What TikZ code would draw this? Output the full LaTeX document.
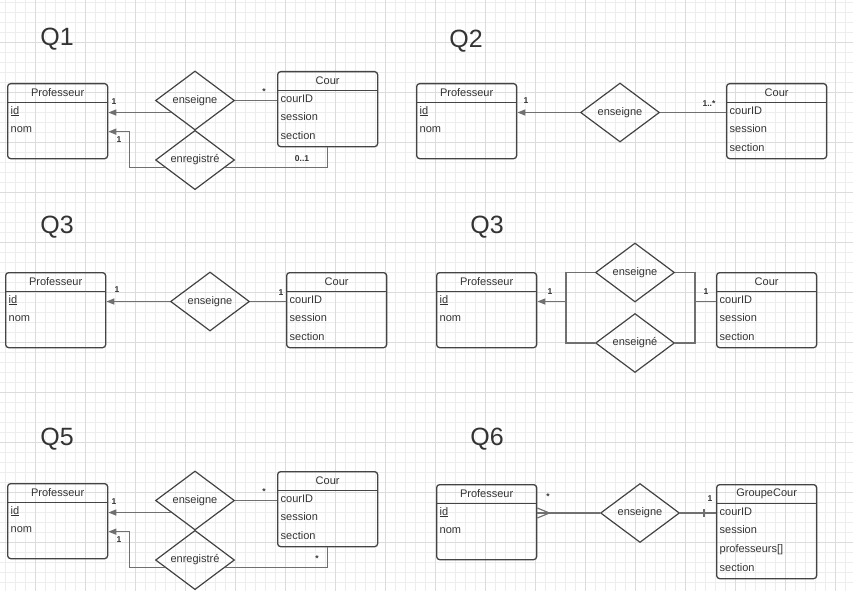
\documentclass[tikz,border=0pt]{standalone}
\usepackage{fontspec}
\setmainfont{Liberation Sans}
\usepackage{tikz}
\usetikzlibrary{calc}
\usetikzlibrary{arrows.meta}
\usetikzlibrary{shapes.geometric}
\usepackage{xcolor}

\definecolor{gridminor}{HTML}{EDEDED}
\definecolor{gridmajor}{HTML}{DCDCDC}
\definecolor{boxborder}{HTML}{444444}
\definecolor{linkgray}{HTML}{707070}
\definecolor{txt}{HTML}{333333}

\begin{document}
\begin{tikzpicture}[x=1pt,y=-1pt,
	entity/.style={rectangle,draw=boxborder,line width=1.3pt,rounded corners=3pt,minimum width=100pt,anchor=north west,inner sep=0pt},
	head/.style={anchor=north,minimum width=100pt,minimum height=19pt,inner sep=0pt,font=\fontsize{11}{13}\selectfont,text=txt},
	attr/.style={anchor=west,inner sep=0pt,text height=8pt,text depth=2.5pt,font=\fontsize{11}{13}\selectfont,text=txt},
	rel/.style={diamond,draw=boxborder,line width=1.2pt,minimum width=79pt,minimum height=59pt,inner sep=0pt,font=\fontsize{11}{13}\selectfont,text=txt},
	link/.style={draw=linkgray,line width=1.2pt},
	arr/.style={link,-{Triangle[length=8pt,width=6pt]}},
	lab/.style={inner sep=0pt,font=\fontsize{8.5}{10}\selectfont\bfseries,text=txt},
	qtitle/.style={inner sep=0pt,font=\fontsize{25}{30}\selectfont,text=txt},
	]
	
	%bounding box
	\useasboundingbox (0,0) rectangle (853,591);
	%grid
	\foreach \gx in {5,15,...,853}
	{
		\draw[gridminor,line width=0.8pt] (\gx,0) -- (\gx,591);
	}
	\foreach \gy in {2.5,12.5,...,591}
	{
		\draw[gridminor,line width=0.8pt] (0,\gy) -- (853,\gy);
	}
	\foreach \gx in {35,85,...,853}
	{
		\draw[gridmajor,line width=0.8pt] (\gx,0) -- (\gx,591);
	}
	\foreach \gy in {42.5,92.5,...,591}
	{
		\draw[gridmajor,line width=0.8pt] (0,\gy) -- (853,\gy);
	}
	
	%titles
	\node[qtitle] (T1) at (57,39) {Q1};
	\node[qtitle] (T2) at (466,41) {Q2};
	\node[qtitle] (T3) at (57,227) {Q3};
	\node[qtitle] (T4) at (487,227) {Q3};
	\node[qtitle] (T5) at (57,439) {Q5};
	\node[qtitle] (T6) at (487,439) {Q6};
	
	%entities
	\foreach \n/\x/\y/\h/\t/\attrs in {
		P1/7/83/75/Professeur/{\underline{id},nom},
		C1/277/71/75/Cour/{courID,session,section},
		P2/416/83/75/Professeur/{\underline{id},nom},
		C2/726/83/75/Cour/{courID,session,section},
		P3/5/272/75/Professeur/{\underline{id},nom},
		C3/286/272/75/Cour/{courID,session,section},
		P4/436/272/75/Professeur/{\underline{id},nom},
		C4/716/272/75/Cour/{courID,session,section},
		P5/7/483/75/Professeur/{\underline{id},nom},
		C5/277/471/75/Cour/{courID,session,section},
		P6/436/484/75/Professeur/{\underline{id},nom},
		G6/716/484/94/GroupeCour/{courID,session,professeurs[],section}}
	{
		\node[entity,minimum height=\h pt] (\n) at (\x,\y) {};
		\node[head] (\n h) at (\n.north) {\t};
		\draw[draw=boxborder,line width=1.3pt] (\n h.south west) -- (\n h.south east);
		\foreach \a [count=\i] in \attrs
		{
			\node[attr] (\n a\i) at ($(\n h.south west)+(3,{9+18.7*(\i-1)})$) {\a};
		}
	}
	
	%relations
	\node[rel] (E1) at (195,100.5) {enseigne};
	\node[rel] (R1) at (195,160) {enregistré};
	\node[rel] (E2) at (620,112.5) {enseigne};
	\node[rel] (E3) at (210,301.5) {enseigne};
	\node[rel] (E4) at (635,272.5) {enseigne};
	\node[rel] (F4) at (635,343) {enseigné};
	\node[rel] (E5) at (195,500.5) {enseigne};
	\node[rel] (R5) at (195,560) {enregistré};
	\node[rel] (E6) at (640,513) {enseigne};
	
	%Q1
	\coordinate (e1a) at ($(E1.west)!0.4!(E1.south)$);
	\coordinate (r1a) at ($(R1.west)!0.24!(R1.south)$);
	\coordinate (r1b) at ($(R1.east)!0.24!(R1.south)$);
	\draw[arr] (e1a) -- (e1a -| P1.east);
	\draw[link] (E1.east) -- (E1.east -| C1.west);
	\draw[arr] (r1a) -| ($(P1.east)+(21,10.5)$) -- ($(P1.east)+(0,10.5)$);
	\draw[link] (r1b) -| (C1.south);
	\node[lab] (L1a) at (114,102) {1};
	\node[lab] (L1b) at (264,92) {*};
	\node[lab] (L1c) at (119,140) {1};
	\node[lab] (L1d) at (302,159) {0..1};
	
	%Q2
	\draw[arr] (E2.west) -- (E2.west -| P2.east);
	\draw[link] (E2.east) -- (E2.east -| C2.west);
	\node[lab] (L2a) at (526,101) {1};
	\node[lab] (L2b) at (709,104) {1..*};
	
	%Q3
	\draw[arr] (E3.west) -- (E3.west -| P3.east);
	\draw[link] (E3.east) -- (E3.east -| C3.west);
	\node[lab] (L3a) at (117,290) {1};
	\node[lab] (L3b) at (281,293) {1};
	
	%Q3 (two relations)
	\coordinate (j4l) at (566,301.5);
	\coordinate (j4r) at (695,301.5);
	\draw[link] (E4.west) -| (j4l) |- (F4.west);
	\draw[arr] (j4l) -- (j4l -| P4.east);
	\draw[link] (E4.east) -| (j4r) |- (F4.east);
	\draw[link] (j4r) -- (j4r -| C4.west);
	\node[lab] (L4a) at (550,292) {1};
	\node[lab] (L4b) at (706,292) {1};
	
	%Q5
	\coordinate (e5a) at ($(E5.west)!0.4!(E5.south)$);
	\coordinate (r5a) at ($(R5.west)!0.24!(R5.south)$);
	\coordinate (r5b) at ($(R5.east)!0.24!(R5.south)$);
	\draw[arr] (e5a) -- (e5a -| P5.east);
	\draw[link] (E5.east) -- (E5.east -| C5.west);
	\draw[arr] (r5a) -| ($(P5.east)+(21,10.5)$) -- ($(P5.east)+(0,10.5)$);
	\draw[link] (r5b) -| (C5.south);
	\node[lab] (L5a) at (114,502) {1};
	\node[lab] (L5b) at (264,492) {*};
	\node[lab] (L5c) at (119,540) {1};
	\node[lab] (L5d) at (317,559) {*};
	
	%Q6
	\coordinate (c6l) at (E6.west -| P6.east);
	\coordinate (c6r) at (E6.east -| G6.west);
	\draw[link] (c6l) -- (E6.west);
	\draw[link] ($(c6l)+(0,-5)$) -- ($(c6l)+(12,0)$) -- ($(c6l)+(0,5)$);
	\draw[link] (E6.east) -- (c6r);
	\draw[link] ($(c6r)+(-12,-4)$) -- ($(c6r)+(-12,4)$);
	\node[lab] (L6a) at (548,497) {*};
	\node[lab] (L6b) at (710,499) {1};
	
\end{tikzpicture}
\end{document}
